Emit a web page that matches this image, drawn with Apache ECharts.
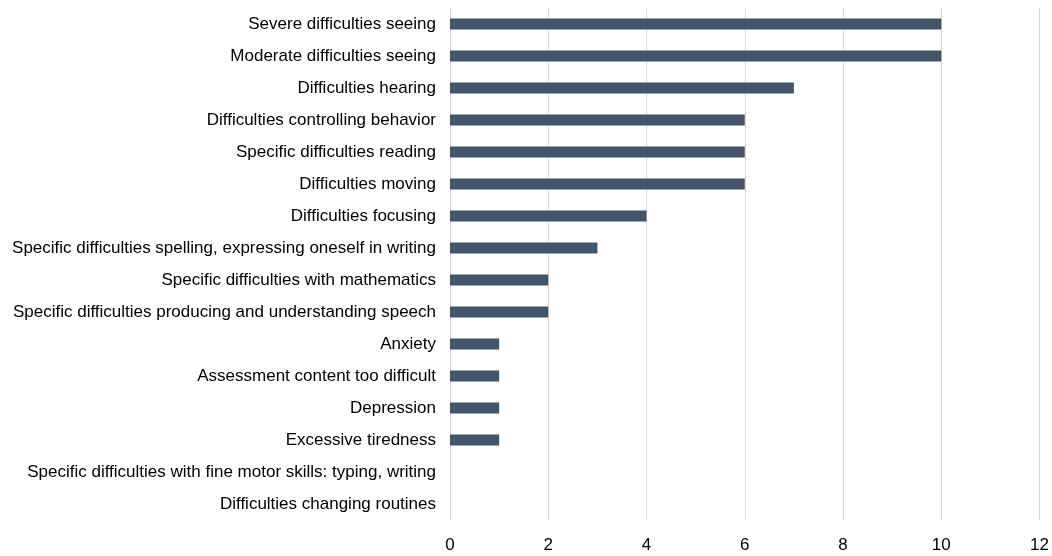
<!DOCTYPE html>
<html>
<head>
<meta charset="utf-8">
<script src="https://cdn.jsdelivr.net/npm/echarts@6/dist/echarts.min.js"></script>
<style>
html,body{margin:0;padding:0;background:#fff;}
#chart{width:1052px;height:556px;}
</style>
</head>
<body>
<div id="chart"></div>
<script>
const categories = [
  "Severe difficulties seeing",
  "Moderate difficulties seeing",
  "Difficulties hearing",
  "Difficulties controlling behavior",
  "Specific difficulties reading",
  "Difficulties moving",
  "Difficulties focusing",
  "Specific difficulties spelling, expressing oneself in writing",
  "Specific difficulties with mathematics",
  "Specific difficulties producing and understanding speech",
  "Anxiety",
  "Assessment content too difficult",
  "Depression",
  "Excessive tiredness",
  "Specific difficulties with fine motor skills: typing, writing",
  "Difficulties changing routines"
];
const values = [10, 10, 7, 6, 6, 6, 4, 3, 2, 2, 1, 1, 1, 1, 0, 0];
const xTicks = { min: 0, max: 12, interval: 2 };

const font = '"Liberation Sans Narrow", "Arial Narrow", "Liberation Sans", Arial, sans-serif';
const chart = echarts.init(document.getElementById('chart'));
chart.setOption({
  animation: false,
  backgroundColor: '#ffffff',
  grid: { left: 450, right: 11, top: 8, bottom: 36, containLabel: false },
  xAxis: {
    type: 'value',
    min: xTicks.min, max: xTicks.max, interval: xTicks.interval,
    axisLine: { show: false },
    axisTick: { show: false },
    splitLine: { show: true, lineStyle: { color: '#d9d9d9', width: 1 } },
    axisLabel: { color: '#000', fontFamily: font, fontSize: 17, margin: 17 }
  },
  yAxis: {
    type: 'category',
    data: categories,
    inverse: true,
    axisLine: { show: false },
    axisTick: { show: false },
    axisLabel: { color: '#000', fontFamily: font, fontSize: 17, margin: 14 }
  },
  series: [{
    type: 'bar',
    data: values,
    barWidth: 11,
    itemStyle: { color: '#44546A' }
  }]
});
</script>
</body>
</html>
